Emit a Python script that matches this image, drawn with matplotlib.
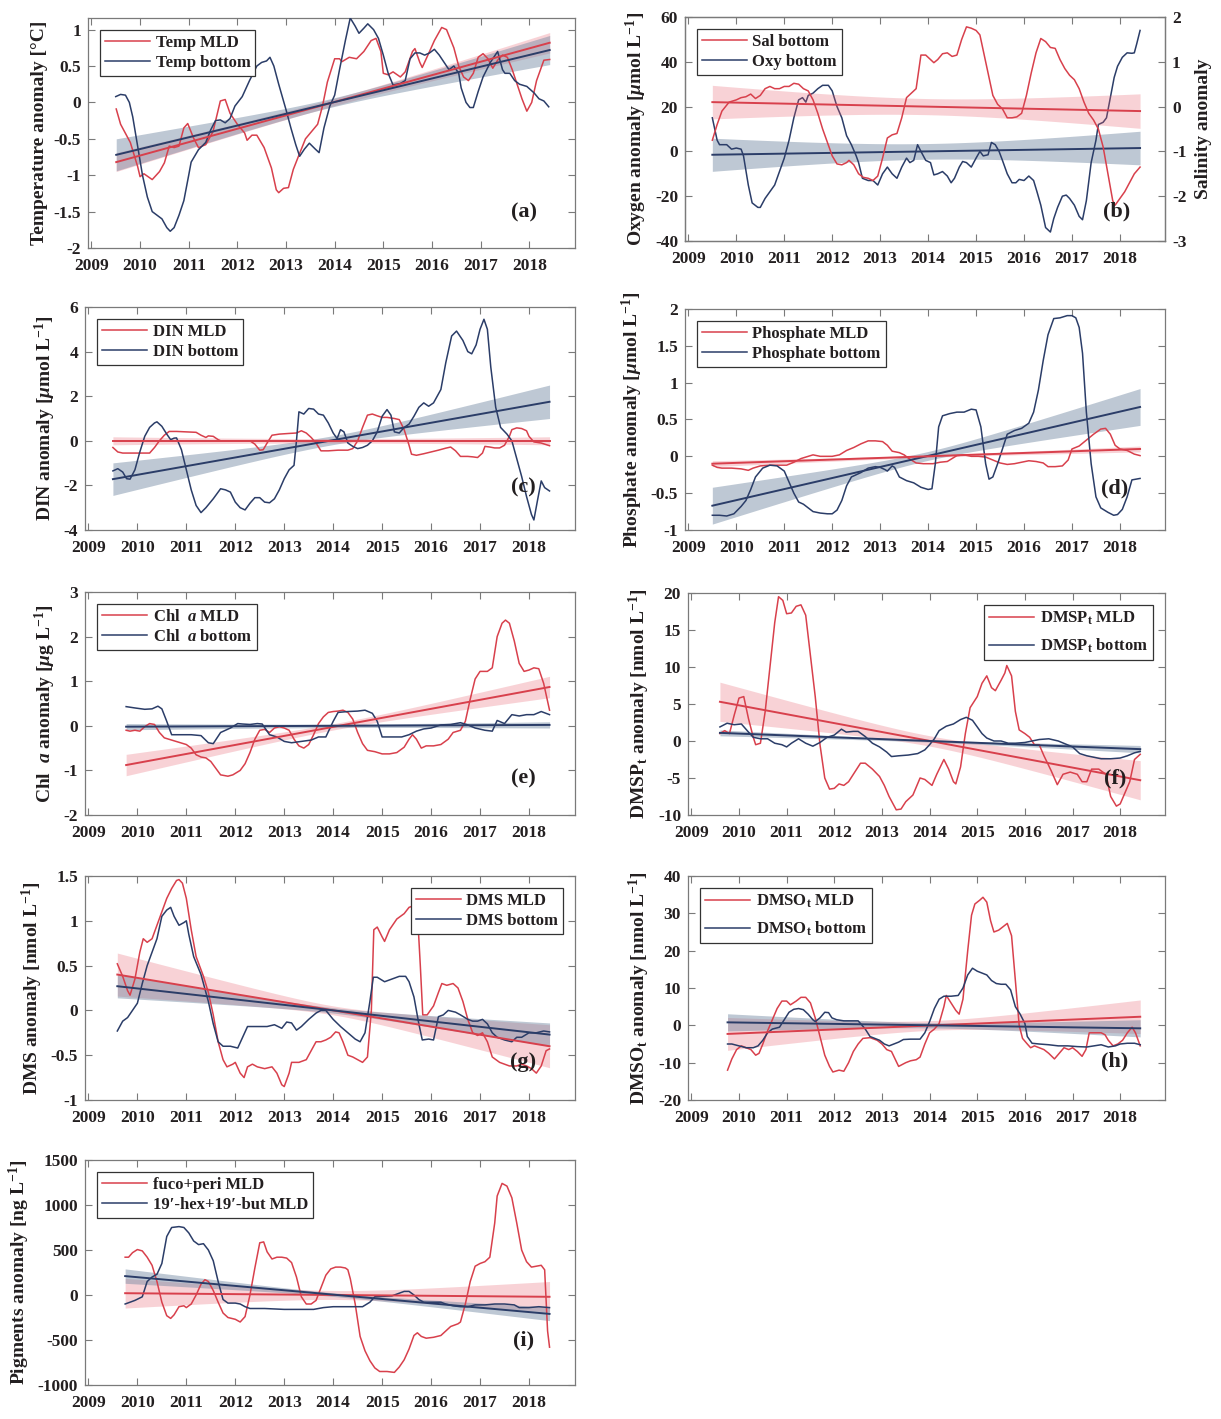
import numpy as np
import matplotlib
matplotlib.use("Agg")
import matplotlib.pyplot as plt
from matplotlib.ticker import FormatStrFormatter

plt.rcParams['font.family'] = ['Liberation Serif', 'DejaVu Serif']
plt.rcParams['font.weight'] = 'bold'
plt.rcParams['axes.labelweight'] = 'bold'
plt.rcParams['axes.unicode_minus'] = False
plt.rcParams['mathtext.fontset'] = 'custom'
plt.rcParams['mathtext.rm'] = 'Liberation Serif:bold'
plt.rcParams['mathtext.it'] = 'Liberation Serif:italic:bold'
plt.rcParams['mathtext.bf'] = 'Liberation Serif:bold'

RED = '#d8404c'
BLUE = '#2b3d68'
TXT = '#231f20'
FRAME = '#7a7a7a'

# ---------------- data (decimal year, anomaly) ----------------
temp_mld = np.array([(2009.51, -0.09), (2009.6, -0.3), (2009.8, -0.55), (2009.95, -0.88), (2010.0, -1.02),
    (2010.08, -0.98), (2010.25, -1.06), (2010.4, -0.95), (2010.5, -0.83), (2010.6, -0.6), (2010.7, -0.62),
    (2010.8, -0.6), (2010.9, -0.35), (2010.98, -0.29), (2011.1, -0.49), (2011.2, -0.62), (2011.35, -0.58),
    (2011.5, -0.4), (2011.65, 0.02), (2011.75, 0.04), (2011.85, -0.15), (2012.0, -0.3), (2012.15, -0.42),
    (2012.2, -0.52), (2012.3, -0.45), (2012.4, -0.45), (2012.55, -0.62), (2012.7, -0.9), (2012.8, -1.2),
    (2012.85, -1.24), (2012.95, -1.18), (2013.05, -1.17), (2013.15, -0.92), (2013.25, -0.75), (2013.4, -0.5),
    (2013.55, -0.38), (2013.65, -0.3), (2013.75, -0.05), (2013.85, 0.28), (2014.0, 0.6), (2014.1, 0.6),
    (2014.15, 0.56), (2014.3, 0.62), (2014.45, 0.6), (2014.6, 0.7), (2014.75, 0.85), (2014.85, 0.88),
    (2014.95, 0.7), (2015.0, 0.4), (2015.1, 0.38), (2015.2, 0.42), (2015.35, 0.35), (2015.45, 0.42),
    (2015.6, 0.7), (2015.65, 0.74), (2015.75, 0.55), (2015.8, 0.48), (2015.95, 0.7), (2016.05, 0.85),
    (2016.2, 1.03), (2016.3, 1.0), (2016.45, 0.75), (2016.55, 0.5), (2016.65, 0.35), (2016.75, 0.3),
    (2016.85, 0.4), (2016.95, 0.62), (2017.05, 0.67), (2017.15, 0.6), (2017.25, 0.47), (2017.35, 0.58),
    (2017.45, 0.65), (2017.55, 0.62), (2017.65, 0.45), (2017.75, 0.25), (2017.85, 0.05), (2017.95, -0.12),
    (2018.05, 0.0), (2018.15, 0.3), (2018.3, 0.58), (2018.42, 0.59)])
temp_bot = np.array([(2009.5, 0.08), (2009.6, 0.11), (2009.7, 0.1), (2009.78, 0.0), (2009.85, -0.2),
    (2009.95, -0.6), (2010.05, -1.0), (2010.15, -1.3), (2010.25, -1.5), (2010.35, -1.55), (2010.45, -1.6),
    (2010.55, -1.72), (2010.62, -1.77), (2010.7, -1.72), (2010.8, -1.55), (2010.9, -1.35), (2011.0, -1.0),
    (2011.05, -0.82), (2011.2, -0.65), (2011.35, -0.55), (2011.45, -0.38), (2011.55, -0.25), (2011.65, -0.24),
    (2011.75, -0.28), (2011.85, -0.22), (2011.95, -0.05), (2012.1, 0.08), (2012.25, 0.3), (2012.4, 0.5),
    (2012.5, 0.55), (2012.6, 0.57), (2012.67, 0.62), (2012.75, 0.5), (2012.85, 0.25), (2013.0, -0.1),
    (2013.1, -0.35), (2013.2, -0.58), (2013.28, -0.74), (2013.38, -0.64), (2013.48, -0.56), (2013.6, -0.64),
    (2013.68, -0.69), (2013.78, -0.35), (2013.9, -0.05), (2014.0, 0.1), (2014.1, 0.45), (2014.22, 0.85),
    (2014.32, 1.16), (2014.42, 1.05), (2014.5, 0.95), (2014.6, 1.02), (2014.68, 1.08), (2014.8, 1.0),
    (2014.9, 0.88), (2015.0, 0.65), (2015.1, 0.4), (2015.2, 0.24), (2015.35, 0.26), (2015.45, 0.3),
    (2015.55, 0.6), (2015.65, 0.68), (2015.75, 0.68), (2015.85, 0.65), (2015.95, 0.68), (2016.05, 0.73),
    (2016.15, 0.65), (2016.25, 0.55), (2016.35, 0.45), (2016.45, 0.5), (2016.55, 0.4), (2016.6, 0.2),
    (2016.7, 0.0), (2016.78, -0.07), (2016.85, -0.07), (2016.95, 0.15), (2017.05, 0.35), (2017.2, 0.55),
    (2017.35, 0.7), (2017.45, 0.45), (2017.5, 0.4), (2017.6, 0.4), (2017.7, 0.3), (2017.8, 0.25),
    (2017.95, 0.22), (2018.1, 0.13), (2018.2, 0.05), (2018.3, 0.02), (2018.4, -0.06)])

sal_bot = np.array([(2009.5, -0.75), (2009.6, -0.4), (2009.7, -0.1), (2009.85, 0.1), (2010.0, 0.15),
    (2010.1, 0.2), (2010.2, 0.22), (2010.3, 0.28), (2010.4, 0.18), (2010.5, 0.25), (2010.6, 0.4),
    (2010.7, 0.45), (2010.8, 0.4), (2010.9, 0.4), (2011.0, 0.45), (2011.1, 0.45), (2011.2, 0.52),
    (2011.3, 0.5), (2011.4, 0.4), (2011.5, 0.35), (2011.6, 0.15), (2011.7, -0.15), (2011.8, -0.5),
    (2011.9, -0.8), (2012.0, -1.1), (2012.1, -1.28), (2012.2, -1.3), (2012.3, -1.25), (2012.35, -1.2),
    (2012.45, -1.3), (2012.55, -1.5), (2012.65, -1.58), (2012.75, -1.6), (2012.85, -1.65), (2012.95, -1.55),
    (2013.05, -1.15), (2013.15, -0.7), (2013.25, -0.63), (2013.35, -0.6), (2013.45, -0.25), (2013.55, 0.2),
    (2013.65, 0.3), (2013.75, 0.4), (2013.85, 1.15), (2013.95, 1.15), (2014.05, 1.05), (2014.12, 0.98),
    (2014.2, 1.05), (2014.3, 1.18), (2014.4, 1.2), (2014.5, 1.12), (2014.6, 1.15), (2014.7, 1.5),
    (2014.8, 1.78), (2014.9, 1.75), (2015.0, 1.7), (2015.08, 1.6), (2015.15, 1.25), (2015.25, 0.75),
    (2015.35, 0.25), (2015.45, 0.05), (2015.55, -0.05), (2015.65, -0.25), (2015.75, -0.25), (2015.85, -0.23),
    (2015.95, -0.15), (2016.05, 0.25), (2016.15, 0.75), (2016.25, 1.2), (2016.35, 1.52), (2016.45, 1.45),
    (2016.55, 1.32), (2016.65, 1.3), (2016.75, 1.05), (2016.85, 0.85), (2016.95, 0.7), (2017.05, 0.6),
    (2017.15, 0.4), (2017.25, 0.1), (2017.35, -0.15), (2017.45, -0.3), (2017.55, -0.5), (2017.65, -0.9),
    (2017.75, -1.5), (2017.85, -2.1), (2017.9, -2.2), (2018.0, -2.05), (2018.1, -1.9), (2018.2, -1.7),
    (2018.3, -1.5), (2018.42, -1.35)])
oxy_bot = np.array([(2009.5, 15), (2009.6, 5), (2009.65, 3), (2009.8, 3), (2009.9, 1), (2010.0, 1.5),
    (2010.1, 1), (2010.15, -2), (2010.25, -15), (2010.33, -23), (2010.45, -25), (2010.5, -25), (2010.6, -21),
    (2010.7, -18), (2010.8, -15), (2010.9, -9), (2011.0, -3), (2011.1, 5), (2011.2, 15), (2011.3, 23),
    (2011.38, 24), (2011.45, 22), (2011.5, 25), (2011.6, 26), (2011.7, 28), (2011.8, 29.5), (2011.92, 29.5),
    (2012.0, 27), (2012.1, 20), (2012.2, 15), (2012.3, 7), (2012.4, 3), (2012.5, -2), (2012.55, -5),
    (2012.63, -12), (2012.75, -13), (2012.85, -13), (2012.95, -15), (2013.05, -10), (2013.15, -7),
    (2013.25, -10), (2013.35, -12), (2013.45, -7), (2013.55, -3), (2013.62, -5), (2013.7, -4), (2013.78, 3),
    (2013.85, 0), (2013.95, -4), (2014.05, -5), (2014.12, -10.5), (2014.2, -10), (2014.3, -9), (2014.4, -11),
    (2014.48, -14), (2014.55, -12), (2014.65, -7), (2014.72, -4.5), (2014.8, -5), (2014.9, -7), (2015.0, -3),
    (2015.08, 0), (2015.15, -2), (2015.25, -1.5), (2015.32, 4), (2015.4, 3), (2015.48, 0), (2015.55, -4),
    (2015.65, -10), (2015.75, -14), (2015.83, -14), (2015.9, -12.5), (2016.0, -13), (2016.1, -11),
    (2016.2, -13), (2016.27, -18), (2016.35, -24), (2016.45, -34), (2016.55, -36), (2016.62, -30),
    (2016.7, -25), (2016.8, -20), (2016.88, -19.5), (2016.95, -21), (2017.05, -24), (2017.15, -29),
    (2017.22, -30.5), (2017.3, -22), (2017.4, -5), (2017.5, 5), (2017.55, 12), (2017.65, 13), (2017.72, 15),
    (2017.8, 24), (2017.88, 33), (2017.95, 38), (2018.05, 42), (2018.15, 44), (2018.25, 43.8), (2018.3, 44),
    (2018.35, 48), (2018.42, 54)])

din_mld = np.array([(2009.5, -0.3), (2009.6, -0.5), (2009.7, -0.55), (2009.9, -0.55), (2010.1, -0.55),
    (2010.25, -0.55), (2010.35, -0.3), (2010.45, 0.0), (2010.55, 0.25), (2010.65, 0.42), (2010.8, 0.42),
    (2011.0, 0.4), (2011.2, 0.38), (2011.3, 0.25), (2011.4, 0.15), (2011.45, 0.22), (2011.55, 0.2),
    (2011.65, 0.05), (2011.7, 0.0), (2012.0, 0.0), (2012.3, 0.0), (2012.4, -0.15), (2012.5, -0.42),
    (2012.57, -0.4), (2012.65, -0.1), (2012.75, 0.25), (2012.9, 0.3), (2013.1, 0.33), (2013.25, 0.35),
    (2013.35, 0.45), (2013.45, 0.35), (2013.55, 0.15), (2013.65, -0.1), (2013.75, -0.45), (2013.9, -0.45),
    (2014.1, -0.42), (2014.3, -0.42), (2014.4, -0.35), (2014.5, 0.0), (2014.6, 0.6), (2014.7, 1.15),
    (2014.8, 1.2), (2014.9, 1.12), (2015.0, 1.05), (2015.1, 1.05), (2015.25, 1.0), (2015.35, 0.95),
    (2015.45, 0.5), (2015.55, -0.2), (2015.6, -0.6), (2015.7, -0.65), (2015.85, -0.58), (2016.0, -0.5),
    (2016.15, -0.42), (2016.3, -0.33), (2016.4, -0.28), (2016.5, -0.45), (2016.6, -0.7), (2016.75, -0.7),
    (2016.85, -0.72), (2016.95, -0.75), (2017.05, -0.55), (2017.1, -0.25), (2017.2, -0.28), (2017.3, -0.32),
    (2017.4, -0.32), (2017.5, -0.2), (2017.6, 0.2), (2017.65, 0.5), (2017.75, 0.58), (2017.85, 0.55),
    (2017.95, 0.45), (2018.0, 0.2), (2018.1, -0.05), (2018.25, -0.1), (2018.42, -0.22)])
din_bot = np.array([(2009.5, -1.35), (2009.6, -1.25), (2009.7, -1.4), (2009.78, -1.7), (2009.85, -1.72),
    (2009.95, -1.3), (2010.05, -0.5), (2010.15, 0.2), (2010.25, 0.6), (2010.35, 0.8), (2010.4, 0.85),
    (2010.5, 0.65), (2010.6, 0.3), (2010.68, 0.05), (2010.75, 0.12), (2010.8, 0.13), (2010.9, -0.4),
    (2011.0, -1.3), (2011.1, -2.2), (2011.2, -2.9), (2011.3, -3.22), (2011.4, -3.0), (2011.55, -2.6),
    (2011.7, -2.15), (2011.8, -2.2), (2011.9, -2.3), (2012.0, -2.75), (2012.1, -3.0), (2012.2, -3.1),
    (2012.3, -2.8), (2012.4, -2.55), (2012.5, -2.55), (2012.6, -2.75), (2012.7, -2.78), (2012.8, -2.6),
    (2012.9, -2.2), (2013.0, -1.7), (2013.1, -1.3), (2013.2, -1.1), (2013.25, 0.0), (2013.3, 1.3),
    (2013.4, 1.2), (2013.5, 1.45), (2013.6, 1.42), (2013.7, 1.2), (2013.8, 1.15), (2013.9, 0.8),
    (2014.0, 0.35), (2014.08, 0.1), (2014.15, 0.5), (2014.22, 0.4), (2014.3, -0.1), (2014.4, -0.25),
    (2014.5, -0.35), (2014.6, -0.3), (2014.7, -0.2), (2014.8, 0.0), (2014.9, 0.4), (2015.0, 1.1),
    (2015.1, 1.4), (2015.18, 1.15), (2015.25, 0.4), (2015.35, 0.35), (2015.45, 0.6), (2015.55, 0.75),
    (2015.65, 1.1), (2015.75, 1.5), (2015.85, 1.7), (2015.95, 1.55), (2016.05, 1.7), (2016.2, 2.3),
    (2016.3, 3.5), (2016.42, 4.7), (2016.52, 4.92), (2016.65, 4.5), (2016.75, 4.0), (2016.83, 3.9),
    (2016.92, 4.3), (2017.0, 5.0), (2017.08, 5.45), (2017.15, 5.0), (2017.22, 3.3), (2017.32, 1.5),
    (2017.42, 0.6), (2017.55, 0.3), (2017.65, 0.0), (2017.75, -0.8), (2017.85, -1.6), (2017.95, -2.5),
    (2018.05, -3.3), (2018.1, -3.55), (2018.18, -2.6), (2018.25, -1.8), (2018.32, -2.1), (2018.42, -2.25)])

po4_mld = np.array([(2009.5, -0.12), (2009.6, -0.15), (2009.7, -0.16), (2009.9, -0.16), (2010.1, -0.17),
    (2010.25, -0.19), (2010.35, -0.16), (2010.5, -0.13), (2010.7, -0.12), (2010.9, -0.12), (2011.05, -0.12),
    (2011.2, -0.08), (2011.35, -0.03), (2011.5, 0.0), (2011.6, 0.02), (2011.75, 0.0), (2012.0, 0.0),
    (2012.15, 0.02), (2012.3, 0.08), (2012.45, 0.12), (2012.6, 0.17), (2012.75, 0.21), (2012.9, 0.21),
    (2013.05, 0.2), (2013.15, 0.15), (2013.25, 0.07), (2013.4, 0.05), (2013.5, 0.02), (2013.6, -0.03),
    (2013.75, -0.09), (2013.9, -0.1), (2014.1, -0.1), (2014.25, -0.08), (2014.4, -0.07), (2014.5, -0.03),
    (2014.6, 0.01), (2014.75, 0.02), (2014.9, 0.0), (2015.05, 0.0), (2015.2, -0.01), (2015.35, -0.05),
    (2015.5, -0.09), (2015.65, -0.11), (2015.8, -0.1), (2015.95, -0.08), (2016.1, -0.06), (2016.25, -0.07),
    (2016.4, -0.09), (2016.5, -0.14), (2016.65, -0.14), (2016.8, -0.13), (2016.92, -0.05), (2017.0, 0.1),
    (2017.15, 0.14), (2017.3, 0.22), (2017.45, 0.3), (2017.6, 0.37), (2017.7, 0.38), (2017.8, 0.3),
    (2017.9, 0.15), (2018.0, 0.1), (2018.15, 0.08), (2018.3, 0.03), (2018.42, 0.01)])
po4_bot = np.array([(2009.5, -0.8), (2009.65, -0.8), (2009.8, -0.81), (2009.95, -0.78), (2010.1, -0.68),
    (2010.2, -0.6), (2010.3, -0.45), (2010.4, -0.28), (2010.55, -0.16), (2010.7, -0.12), (2010.85, -0.13),
    (2011.0, -0.2), (2011.1, -0.35), (2011.2, -0.5), (2011.3, -0.62), (2011.4, -0.65), (2011.5, -0.7),
    (2011.6, -0.75), (2011.75, -0.77), (2011.9, -0.78), (2012.0, -0.78), (2012.1, -0.73), (2012.2, -0.6),
    (2012.3, -0.4), (2012.4, -0.28), (2012.6, -0.22), (2012.75, -0.16), (2012.9, -0.14), (2013.0, -0.15),
    (2013.1, -0.18), (2013.15, -0.2), (2013.25, -0.13), (2013.3, -0.15), (2013.4, -0.28), (2013.55, -0.33),
    (2013.7, -0.36), (2013.85, -0.42), (2014.0, -0.45), (2014.08, -0.44), (2014.15, -0.1), (2014.22, 0.4),
    (2014.3, 0.55), (2014.45, 0.58), (2014.6, 0.6), (2014.75, 0.6), (2014.9, 0.64), (2015.0, 0.63),
    (2015.1, 0.4), (2015.2, -0.1), (2015.27, -0.31), (2015.35, -0.28), (2015.45, -0.1), (2015.55, 0.1),
    (2015.65, 0.3), (2015.8, 0.35), (2015.95, 0.38), (2016.1, 0.45), (2016.2, 0.6), (2016.3, 0.9),
    (2016.4, 1.3), (2016.5, 1.65), (2016.62, 1.87), (2016.75, 1.88), (2016.9, 1.91), (2017.0, 1.91),
    (2017.08, 1.88), (2017.15, 1.75), (2017.22, 1.4), (2017.3, 0.6), (2017.4, -0.1), (2017.5, -0.55),
    (2017.6, -0.7), (2017.75, -0.76), (2017.87, -0.8), (2017.95, -0.79), (2018.05, -0.72), (2018.15, -0.55),
    (2018.25, -0.32), (2018.42, -0.3)])

chl_mld = np.array([(2009.77, -0.1), (2009.85, -0.12), (2009.95, -0.1), (2010.05, -0.12), (2010.15, -0.02),
    (2010.25, 0.05), (2010.35, 0.03), (2010.45, -0.15), (2010.55, -0.27), (2010.7, -0.32), (2010.85, -0.37),
    (2011.0, -0.42), (2011.1, -0.5), (2011.2, -0.65), (2011.3, -0.7), (2011.4, -0.72), (2011.5, -0.8),
    (2011.6, -0.95), (2011.7, -1.1), (2011.85, -1.13), (2011.95, -1.1), (2012.1, -1.0), (2012.2, -0.85),
    (2012.3, -0.6), (2012.4, -0.3), (2012.5, -0.1), (2012.6, -0.08), (2012.7, -0.15), (2012.8, -0.05),
    (2012.9, -0.02), (2013.0, -0.05), (2013.1, -0.1), (2013.2, -0.3), (2013.3, -0.45), (2013.4, -0.5),
    (2013.5, -0.42), (2013.6, -0.2), (2013.7, 0.05), (2013.8, 0.2), (2013.9, 0.3), (2014.0, 0.32),
    (2014.1, 0.33), (2014.2, 0.35), (2014.3, 0.3), (2014.4, 0.15), (2014.5, -0.15), (2014.6, -0.4),
    (2014.7, -0.55), (2014.85, -0.58), (2015.0, -0.63), (2015.15, -0.63), (2015.3, -0.6), (2015.45, -0.48),
    (2015.55, -0.3), (2015.62, -0.2), (2015.7, -0.3), (2015.8, -0.5), (2015.9, -0.45), (2016.05, -0.45),
    (2016.2, -0.42), (2016.35, -0.3), (2016.45, -0.15), (2016.6, -0.1), (2016.7, 0.1), (2016.8, 0.6),
    (2016.9, 1.05), (2017.0, 1.22), (2017.15, 1.22), (2017.25, 1.3), (2017.35, 2.0), (2017.45, 2.3),
    (2017.52, 2.37), (2017.6, 2.3), (2017.7, 1.9), (2017.8, 1.4), (2017.9, 1.22), (2018.0, 1.25),
    (2018.1, 1.3), (2018.2, 1.28), (2018.3, 0.95), (2018.42, 0.35)])
chl_bot = np.array([(2009.77, 0.43), (2009.95, 0.4), (2010.15, 0.37), (2010.3, 0.38), (2010.42, 0.44),
    (2010.5, 0.38), (2010.6, 0.1), (2010.7, -0.2), (2010.9, -0.2), (2011.1, -0.2), (2011.3, -0.22),
    (2011.45, -0.38), (2011.55, -0.4), (2011.7, -0.15), (2011.9, -0.05), (2012.05, 0.05), (2012.15, 0.04),
    (2012.3, 0.03), (2012.45, 0.05), (2012.55, 0.04), (2012.7, -0.2), (2012.85, -0.25), (2013.0, -0.35),
    (2013.15, -0.38), (2013.35, -0.35), (2013.55, -0.32), (2013.7, -0.25), (2013.85, -0.25), (2014.0, 0.1),
    (2014.1, 0.3), (2014.3, 0.32), (2014.5, 0.33), (2014.65, 0.35), (2014.8, 0.28), (2014.9, 0.1),
    (2015.0, -0.25), (2015.2, -0.25), (2015.4, -0.25), (2015.55, -0.2), (2015.7, -0.12), (2015.85, -0.07),
    (2016.0, -0.05), (2016.2, 0.02), (2016.4, 0.03), (2016.6, 0.07), (2016.75, 0.02), (2016.9, -0.05),
    (2017.1, -0.1), (2017.25, -0.12), (2017.35, 0.12), (2017.5, 0.05), (2017.65, 0.25), (2017.8, 0.22),
    (2017.95, 0.25), (2018.1, 0.25), (2018.25, 0.32), (2018.42, 0.25)])

dmsp_mld = np.array([(2009.6, 1.0), (2009.7, 1.4), (2009.8, 1.0), (2009.9, 3.5), (2010.0, 5.8), (2010.1, 6.0),
    (2010.2, 3.0), (2010.3, 0.5), (2010.35, -0.5), (2010.45, -0.3), (2010.55, 4.0), (2010.65, 10.0),
    (2010.75, 16.0), (2010.83, 19.5), (2010.92, 19.0), (2011.0, 17.2), (2011.1, 17.3), (2011.2, 18.2),
    (2011.3, 18.4), (2011.4, 17.0), (2011.5, 11.5), (2011.6, 6.0), (2011.7, -0.5), (2011.8, -5.0),
    (2011.9, -6.5), (2012.0, -6.4), (2012.1, -5.8), (2012.2, -6.0), (2012.3, -5.5), (2012.45, -4.0),
    (2012.55, -3.0), (2012.65, -3.0), (2012.8, -3.8), (2012.95, -4.8), (2013.05, -6.0), (2013.15, -7.5),
    (2013.3, -9.3), (2013.4, -9.2), (2013.5, -8.2), (2013.65, -7.3), (2013.8, -5.0), (2013.9, -5.2),
    (2014.05, -6.0), (2014.15, -4.5), (2014.3, -2.5), (2014.4, -3.8), (2014.5, -5.5), (2014.55, -5.8),
    (2014.65, -3.5), (2014.75, 1.0), (2014.85, 4.5), (2015.0, 6.0), (2015.1, 7.8), (2015.2, 8.8),
    (2015.3, 7.2), (2015.38, 6.8), (2015.5, 8.2), (2015.58, 9.2), (2015.62, 10.2), (2015.72, 8.8),
    (2015.8, 4.0), (2015.88, 1.5), (2016.0, 1.0), (2016.1, 0.5), (2016.2, -0.5), (2016.3, -0.5),
    (2016.4, -2.0), (2016.55, -4.0), (2016.68, -5.9), (2016.8, -4.5), (2016.95, -4.2), (2017.1, -4.5),
    (2017.2, -5.5), (2017.3, -5.5), (2017.4, -3.8), (2017.55, -3.8), (2017.7, -4.5), (2017.8, -7.5),
    (2017.92, -8.8), (2018.0, -8.5), (2018.1, -7.0), (2018.2, -5.5), (2018.3, -2.5), (2018.42, -1.8)])
dmsp_bot = np.array([(2009.6, 1.9), (2009.75, 2.4), (2009.9, 2.2), (2010.05, 2.3), (2010.2, 1.2),
    (2010.3, 0.5), (2010.45, 0.3), (2010.6, 0.3), (2010.75, -0.3), (2010.9, -0.5), (2011.0, -0.8),
    (2011.1, -0.3), (2011.25, 0.3), (2011.4, -0.3), (2011.55, -0.7), (2011.7, -0.2), (2011.85, 0.5),
    (2012.0, 0.8), (2012.15, 1.6), (2012.25, 1.2), (2012.4, 1.3), (2012.5, 1.3), (2012.65, 0.6),
    (2012.8, -0.3), (2012.95, -0.8), (2013.1, -1.5), (2013.2, -2.1), (2013.35, -2.0), (2013.55, -1.9),
    (2013.75, -1.7), (2013.9, -1.2), (2014.0, -0.5), (2014.1, 0.3), (2014.2, 1.4), (2014.35, 2.0),
    (2014.5, 2.3), (2014.65, 2.9), (2014.77, 3.2), (2014.9, 2.8), (2015.0, 1.9), (2015.1, 1.0),
    (2015.2, 0.4), (2015.35, 0.0), (2015.5, 0.0), (2015.65, -0.3), (2015.8, -0.3), (2016.0, -0.2),
    (2016.15, 0.0), (2016.3, 0.2), (2016.5, 0.3), (2016.7, 0.0), (2016.85, -0.4), (2017.0, -0.8),
    (2017.15, -1.7), (2017.3, -2.0), (2017.45, -2.2), (2017.6, -2.4), (2017.8, -2.4), (2018.0, -2.3),
    (2018.15, -2.0), (2018.3, -1.6), (2018.42, -1.4)])

dms_mld = np.array([(2009.59, 0.52), (2009.7, 0.38), (2009.8, 0.22), (2009.85, 0.17), (2009.95, 0.35),
    (2010.05, 0.65), (2010.12, 0.8), (2010.2, 0.76), (2010.3, 0.8), (2010.4, 0.95), (2010.5, 1.1),
    (2010.6, 1.25), (2010.7, 1.36), (2010.8, 1.45), (2010.85, 1.46), (2010.92, 1.42), (2011.0, 1.25),
    (2011.1, 0.9), (2011.2, 0.6), (2011.35, 0.38), (2011.45, 0.2), (2011.55, -0.05), (2011.65, -0.35),
    (2011.75, -0.55), (2011.83, -0.63), (2011.95, -0.6), (2012.0, -0.58), (2012.1, -0.7), (2012.18, -0.75),
    (2012.25, -0.63), (2012.35, -0.6), (2012.45, -0.63), (2012.6, -0.65), (2012.75, -0.63), (2012.85, -0.7),
    (2012.95, -0.83), (2013.0, -0.85), (2013.1, -0.7), (2013.15, -0.58), (2013.3, -0.58), (2013.45, -0.55),
    (2013.55, -0.45), (2013.65, -0.35), (2013.75, -0.35), (2013.85, -0.33), (2013.95, -0.3), (2014.05, -0.24),
    (2014.12, -0.25), (2014.2, -0.35), (2014.3, -0.5), (2014.4, -0.52), (2014.5, -0.55), (2014.6, -0.58),
    (2014.7, -0.52), (2014.78, 0.0), (2014.83, 0.9), (2014.9, 0.93), (2015.0, 0.82), (2015.05, 0.77),
    (2015.15, 0.9), (2015.3, 1.02), (2015.45, 1.08), (2015.55, 1.15), (2015.65, 1.17), (2015.72, 1.1),
    (2015.78, 0.5), (2015.83, -0.05), (2015.92, -0.05), (2016.05, 0.05), (2016.15, 0.2), (2016.22, 0.3),
    (2016.32, 0.28), (2016.45, 0.3), (2016.55, 0.25), (2016.65, 0.1), (2016.75, -0.1), (2016.85, -0.25),
    (2016.95, -0.28), (2017.05, -0.25), (2017.15, -0.35), (2017.25, -0.52), (2017.4, -0.58), (2017.5, -0.6),
    (2017.6, -0.62), (2017.75, -0.62), (2017.85, -0.6), (2017.95, -0.62), (2018.05, -0.65), (2018.15, -0.7),
    (2018.25, -0.62), (2018.35, -0.45), (2018.42, -0.43)])
dms_bot = np.array([(2009.59, -0.23), (2009.7, -0.12), (2009.8, -0.08), (2009.9, 0.0), (2010.0, 0.08),
    (2010.1, 0.3), (2010.2, 0.5), (2010.3, 0.65), (2010.4, 0.8), (2010.5, 1.05), (2010.6, 1.12),
    (2010.68, 1.15), (2010.75, 1.05), (2010.85, 0.95), (2010.95, 0.98), (2011.0, 1.0), (2011.05, 0.85),
    (2011.15, 0.6), (2011.3, 0.4), (2011.45, 0.1), (2011.55, -0.15), (2011.65, -0.35), (2011.75, -0.4),
    (2011.9, -0.4), (2012.05, -0.42), (2012.15, -0.3), (2012.25, -0.18), (2012.45, -0.18), (2012.65, -0.18),
    (2012.8, -0.16), (2012.95, -0.2), (2013.05, -0.13), (2013.15, -0.14), (2013.25, -0.22), (2013.35, -0.18),
    (2013.5, -0.1), (2013.65, -0.03), (2013.75, 0.0), (2013.85, 0.0), (2014.0, -0.1), (2014.15, -0.18),
    (2014.3, -0.25), (2014.45, -0.32), (2014.55, -0.35), (2014.65, -0.25), (2014.75, 0.1), (2014.82, 0.37),
    (2014.9, 0.37), (2015.05, 0.32), (2015.2, 0.35), (2015.35, 0.38), (2015.48, 0.38), (2015.55, 0.32),
    (2015.65, 0.15), (2015.75, -0.15), (2015.82, -0.33), (2015.95, -0.32), (2016.05, -0.33), (2016.15, -0.07),
    (2016.25, -0.05), (2016.35, 0.0), (2016.5, -0.02), (2016.6, -0.05), (2016.75, -0.1), (2016.85, -0.12),
    (2016.95, -0.12), (2017.05, -0.1), (2017.15, -0.15), (2017.25, -0.25), (2017.35, -0.3), (2017.5, -0.33),
    (2017.65, -0.35), (2017.75, -0.3), (2017.85, -0.3), (2018.0, -0.25), (2018.15, -0.25), (2018.3, -0.23),
    (2018.42, -0.24)])

dmso_mld = np.array([(2009.76, -12), (2009.85, -9), (2009.95, -6.5), (2010.05, -5.5), (2010.15, -6),
    (2010.25, -6.5), (2010.35, -8), (2010.42, -7.5), (2010.5, -5), (2010.6, -1.5), (2010.7, 1.5),
    (2010.8, 4.5), (2010.9, 6.5), (2011.0, 6.5), (2011.08, 5.5), (2011.2, 6.5), (2011.3, 7.5), (2011.4, 7.5),
    (2011.5, 6), (2011.6, 2), (2011.7, -3), (2011.8, -8), (2011.9, -11), (2011.97, -12.5), (2012.1, -12),
    (2012.2, -12.3), (2012.3, -10), (2012.4, -7), (2012.5, -5), (2012.6, -3.5), (2012.75, -3.3), (2012.9, -4),
    (2013.0, -5), (2013.1, -6.5), (2013.2, -7), (2013.35, -11), (2013.5, -10), (2013.6, -9.5), (2013.72, -9.2),
    (2013.8, -8.5), (2013.9, -5), (2014.0, -2), (2014.1, -1), (2014.2, 0.5), (2014.3, 5), (2014.35, 8),
    (2014.45, 6), (2014.55, 4), (2014.62, 3), (2014.7, 7), (2014.8, 20), (2014.88, 29.5), (2014.95, 32.5),
    (2015.05, 33.5), (2015.12, 34.3), (2015.2, 33), (2015.28, 28), (2015.35, 25), (2015.45, 25.5),
    (2015.55, 26.5), (2015.63, 27.3), (2015.72, 24), (2015.8, 12), (2015.88, 0), (2015.95, -3.5),
    (2016.05, -5), (2016.12, -6), (2016.2, -5.5), (2016.3, -6), (2016.4, -6.5), (2016.5, -7.5), (2016.62, -9),
    (2016.72, -7.5), (2016.82, -6), (2016.92, -6.5), (2017.0, -6), (2017.1, -7), (2017.2, -8.3),
    (2017.28, -6.5), (2017.35, -2), (2017.5, -2), (2017.6, -2), (2017.68, -2.5), (2017.75, -4), (2017.85, -5.5),
    (2017.95, -5), (2018.05, -4), (2018.15, -2), (2018.25, -0.5), (2018.32, -2), (2018.42, -5.5)])
dmso_bot = np.array([(2009.76, -5), (2009.85, -5), (2010.0, -5.5), (2010.15, -6), (2010.3, -6), (2010.4, -5.5),
    (2010.5, -4), (2010.6, -2), (2010.7, -1), (2010.85, -0.5), (2010.95, 1.5), (2011.05, 3.5), (2011.15, 4.3),
    (2011.25, 4.5), (2011.35, 4.2), (2011.45, 3), (2011.55, 1.5), (2011.6, 1), (2011.7, 2), (2011.8, 3.5),
    (2011.88, 3.4), (2011.95, 2), (2012.05, 1.5), (2012.2, 1.2), (2012.4, 1.2), (2012.5, 1.2), (2012.55, 0.5),
    (2012.65, -1), (2012.75, -3), (2012.85, -3.5), (2012.95, -4), (2013.05, -5), (2013.15, -5.5),
    (2013.25, -5), (2013.35, -4.5), (2013.45, -3.8), (2013.6, -3.7), (2013.8, -3.7), (2013.9, -2), (2014.0, 1),
    (2014.1, 4.5), (2014.2, 7), (2014.3, 7.8), (2014.45, 7.8), (2014.6, 8), (2014.7, 10), (2014.8, 13.5),
    (2014.9, 15.3), (2015.0, 14.5), (2015.1, 14), (2015.2, 13.5), (2015.3, 12), (2015.4, 11.2), (2015.5, 11),
    (2015.6, 11), (2015.7, 9.5), (2015.8, 5), (2015.9, 3), (2016.0, 0.5), (2016.05, -3), (2016.15, -4.8),
    (2016.3, -5), (2016.5, -5.2), (2016.7, -5.5), (2016.9, -5.5), (2017.1, -5.7), (2017.3, -5.8),
    (2017.5, -5.4), (2017.6, -5.2), (2017.75, -5.8), (2017.9, -5.5), (2018.0, -5.0), (2018.15, -4.8),
    (2018.3, -4.8), (2018.42, -5.2)])

fuco_mld = np.array([(2009.75, 420), (2009.82, 420), (2009.9, 470), (2010.0, 505), (2010.1, 490), (2010.2, 420),
    (2010.3, 330), (2010.4, 150), (2010.5, -80), (2010.6, -230), (2010.68, -260), (2010.75, -220),
    (2010.85, -130), (2010.95, -120), (2011.0, -140), (2011.1, -100), (2011.2, 0), (2011.3, 120),
    (2011.38, 170), (2011.45, 150), (2011.55, 50), (2011.65, -80), (2011.75, -200), (2011.85, -250),
    (2012.0, -270), (2012.1, -300), (2012.2, -240), (2012.3, 0), (2012.4, 300), (2012.5, 580), (2012.58, 590),
    (2012.65, 480), (2012.75, 400), (2012.85, 420), (2012.95, 420), (2013.05, 410), (2013.15, 360),
    (2013.25, 200), (2013.35, -20), (2013.45, -100), (2013.55, -100), (2013.65, -60), (2013.75, 80),
    (2013.85, 220), (2013.95, 290), (2014.05, 310), (2014.15, 310), (2014.25, 300), (2014.3, 280),
    (2014.35, 180), (2014.45, -100), (2014.55, -460), (2014.65, -620), (2014.75, -730), (2014.85, -810),
    (2014.95, -850), (2015.1, -850), (2015.25, -860), (2015.35, -800), (2015.45, -720), (2015.55, -600),
    (2015.65, -450), (2015.72, -420), (2015.8, -460), (2015.9, -480), (2016.05, -470), (2016.2, -450),
    (2016.3, -400), (2016.4, -350), (2016.55, -320), (2016.6, -300), (2016.7, -100), (2016.8, 150),
    (2016.9, 320), (2017.0, 350), (2017.1, 370), (2017.2, 420), (2017.3, 800), (2017.35, 1100),
    (2017.45, 1240), (2017.55, 1210), (2017.65, 1080), (2017.75, 800), (2017.85, 500), (2017.95, 370),
    (2018.05, 310), (2018.15, 320), (2018.25, 330), (2018.32, 280), (2018.38, -400), (2018.42, -580)])
hex_mld = np.array([(2009.75, -100), (2009.85, -80), (2009.95, -60), (2010.1, -20), (2010.2, 150),
    (2010.3, 200), (2010.4, 230), (2010.5, 350), (2010.6, 650), (2010.7, 750), (2010.85, 760), (2010.95, 750),
    (2011.05, 690), (2011.15, 600), (2011.25, 560), (2011.35, 570), (2011.45, 500), (2011.55, 380),
    (2011.65, 150), (2011.75, -50), (2011.85, -90), (2012.0, -90), (2012.1, -100), (2012.2, -130),
    (2012.3, -150), (2012.6, -150), (2013.0, -160), (2013.3, -160), (2013.6, -160), (2013.8, -140),
    (2014.0, -130), (2014.3, -130), (2014.6, -130), (2014.75, -80), (2014.85, -20), (2015.0, -15),
    (2015.2, -10), (2015.3, 10), (2015.45, 40), (2015.55, 40), (2015.65, 0), (2015.75, -50), (2015.85, -80),
    (2016.0, -80), (2016.2, -80), (2016.3, -100), (2016.45, -120), (2016.6, -130), (2016.75, -130),
    (2016.9, -110), (2017.1, -110), (2017.3, -100), (2017.5, -100), (2017.7, -110), (2017.8, -140),
    (2018.0, -140), (2018.2, -130), (2018.42, -140)])

# linear trends: (t start, t end, y start, y end, half-width start, centre, end)
temp_mld_fit = (2009.51, 2018.42, -0.82, 0.82, 0.13, 0.05, 0.14)
temp_bot_fit = (2009.51, 2018.42, -0.72, 0.72, 0.22, 0.06, 0.20)
sal_fit = (2009.5, 2018.42, 0.10, -0.10, 0.375, 0.18, 0.385)
oxy_fit = (2009.5, 2018.42, -1.5, 1.5, 7.4, 3.5, 7.5)
din_mld_fit = (2009.5, 2018.42, 0.0, 0.0, 0.18, 0.10, 0.18)
din_bot_fit = (2009.5, 2018.42, -1.72, 1.75, 0.73, 0.20, 0.75)
po4_mld_fit = (2009.5, 2018.42, -0.10, 0.10, 0.04, 0.015, 0.04)
po4_bot_fit = (2009.5, 2018.42, -0.67, 0.67, 0.25, 0.06, 0.25)
chl_mld_fit = (2009.77, 2018.42, -0.88, 0.87, 0.24, 0.07, 0.24)
chl_bot_fit = (2009.77, 2018.42, -0.02, 0.02, 0.07, 0.04, 0.07)
dmsp_mld_fit = (2009.6, 2018.42, 5.3, -5.3, 2.65, 0.7, 2.65)
dmsp_bot_fit = (2009.6, 2018.42, 1.1, -1.1, 0.4, 0.15, 0.5)
dms_mld_fit = (2009.59, 2018.42, 0.40, -0.40, 0.24, 0.05, 0.24)
dms_bot_fit = (2009.59, 2018.42, 0.27, -0.27, 0.13, 0.03, 0.13)
dmso_mld_fit = (2009.76, 2018.42, -2.3, 2.3, 4.4, 1.3, 4.5)
dmso_bot_fit = (2009.76, 2018.42, 0.8, -0.8, 2.3, 0.7, 2.3)
fuco_fit = (2009.75, 2018.42, 20, -20, 165, 50, 170)
hex_fit = (2009.75, 2018.42, 210, -210, 80, 20, 75)

years = list(range(2009, 2019))

W, H = 1221, 1419
fig = plt.figure(figsize=(W / 100, H / 100), dpi=100)


def make_ax(l, r, t, b):
    ax = fig.add_axes([l / W, 1 - b / H, (r - l) / W, (b - t) / H])
    style(ax)
    return ax


def style(ax):
    ax.set_xlim(2008.93, 2018.94)
    ax.set_xticks(years)
    ax.tick_params(direction='in', length=5, width=0.8, color=FRAME, labelsize=12.5,
                   labelcolor=TXT, top=True, right=True)
    ax.tick_params(axis='x', pad=7)
    ax.tick_params(axis='y', pad=5)
    ax.yaxis.set_major_formatter(FormatStrFormatter('%g'))
    for s in ax.spines.values():
        s.set_color(FRAME)
        s.set_linewidth(0.9)


def trend(ax, fit, color, fc, alpha, z=2):
    t0, t1, y0, y1, w0, wm, w1 = fit
    t = np.linspace(t0, t1, 80)
    s = (t - (t0 + t1) / 2) / ((t1 - t0) / 2)
    y = y0 + (y1 - y0) * (s + 1) / 2
    we = np.where(s < 0, w0, w1)
    hw = np.sqrt(wm ** 2 + (we ** 2 - wm ** 2) * s ** 2)
    ax.fill_between(t, y - hw, y + hw, color=fc, alpha=alpha, lw=0, zorder=z)
    ax.plot(t, y, color=color, lw=1.4, zorder=z + 2)


def series(ax, d, color, label):
    return ax.plot(d[:, 0], d[:, 1], color=color, lw=1.1, label=label, zorder=3)[0]


def legend(ax, loc='upper left', handles=None, spacing=0.25):
    kw = dict(loc=loc, fontsize=12, frameon=True, fancybox=False, framealpha=1,
              edgecolor='#333333', handlelength=2.7, handletextpad=0.35, borderpad=0.3,
              labelspacing=spacing, borderaxespad=0.7)
    leg = ax.legend(handles=handles, **kw) if handles else ax.legend(**kw)
    leg.get_frame().set_linewidth(0.9)
    for txt in leg.get_texts():
        txt.set_color(TXT)
    leg.set_zorder(10)


def panel_label(ax, s, x=0.895, y=0.16):
    ax.text(x, y, s, transform=ax.transAxes, fontsize=16, ha='center', va='center', color=TXT, zorder=11)


def ylab(ax, s):
    ax.set_ylabel(s, fontsize=14, color=TXT, labelpad=4)


RB, RA = '#e8606e', 0.28
BB, BA = '#6f86a0', 0.45

# (a)
ax = make_ax(88, 575, 18, 248)
ax.set_ylim(-2, 1.16)
ax.set_yticks([-2, -1.5, -1, -0.5, 0, 0.5, 1])
trend(ax, temp_mld_fit, RED, RB, RA)
trend(ax, temp_bot_fit, BLUE, BB, BA)
series(ax, temp_mld, RED, 'Temp MLD')
series(ax, temp_bot, BLUE, 'Temp bottom')
legend(ax)
ylab(ax, 'Temperature anomaly [°C]')
panel_label(ax, '(a)', 0.895, 0.155)

# (b)
ax = make_ax(685, 1165, 17, 241)
ax.set_ylim(-40, 60)
ax.set_yticks(range(-40, 61, 20))
ax2 = ax.twinx()
style(ax2)
ax2.set_ylim(-3, 2)
ax2.set_yticks(range(-3, 3))
trend(ax, oxy_fit, BLUE, BB, BA)
trend(ax2, sal_fit, RED, RB, RA)
hb = series(ax, oxy_bot, BLUE, 'Oxy bottom')
hr = series(ax2, sal_bot, RED, 'Sal bottom')
ax.tick_params(right=False)
ax2.tick_params(left=False, top=True)
legend(ax2, handles=[hr, hb])
ylab(ax, r'Oxygen anomaly [$\mu$mol L$^{-1}$]')
ax2.set_ylabel('Salinity anomaly', fontsize=14, color=TXT, labelpad=6)
panel_label(ax2, '(b)', 0.9, 0.13)

# (c)
ax = make_ax(85, 575, 307, 530)
ax.set_ylim(-4, 6)
ax.set_yticks(range(-4, 7, 2))
trend(ax, din_bot_fit, BLUE, BB, BA)
trend(ax, din_mld_fit, RED, RB, RA)
series(ax, din_mld, RED, 'DIN MLD')
series(ax, din_bot, BLUE, 'DIN bottom')
legend(ax)
ylab(ax, r'DIN anomaly [$\mu$mol L$^{-1}$]')
panel_label(ax, '(c)', 0.895, 0.19)

# (d)
ax = make_ax(685, 1165, 309, 530)
ax.set_ylim(-1, 2)
ax.set_yticks([-1, -0.5, 0, 0.5, 1, 1.5, 2])
trend(ax, po4_bot_fit, BLUE, BB, BA)
trend(ax, po4_mld_fit, RED, RB, RA)
series(ax, po4_mld, RED, 'Phosphate MLD')
series(ax, po4_bot, BLUE, 'Phosphate bottom')
legend(ax)
ylab(ax, r'Phosphate anomaly [$\mu$mol L$^{-1}$]')
panel_label(ax, '(d)', 0.895, 0.19)

# (e)
ax = make_ax(85, 575, 592, 815)
ax.set_ylim(-2, 3)
ax.set_yticks(range(-2, 4))
trend(ax, chl_mld_fit, RED, RB, RA)
trend(ax, chl_bot_fit, BLUE, BB, BA)
series(ax, chl_mld, RED, r'Chl  $a$ MLD')
series(ax, chl_bot, BLUE, r'Chl  $a$ bottom')
legend(ax)
ylab(ax, r'Chl  $a$ anomaly [$\mu$g L$^{-1}$]')
panel_label(ax, '(e)', 0.895, 0.165)

# (f)
ax = make_ax(688, 1165, 593, 815)
ax.set_ylim(-10, 20)
ax.set_yticks(range(-10, 21, 5))
trend(ax, dmsp_mld_fit, RED, RB, RA)
trend(ax, dmsp_bot_fit, BLUE, BB, BA)
series(ax, dmsp_mld, RED, r'DMSP$_\mathrm{t}$ MLD')
series(ax, dmsp_bot, BLUE, r'DMSP$_\mathrm{t}$ bottom')
legend(ax, loc='upper right', spacing=0.6)
ylab(ax, r'DMSP$_\mathrm{t}$ anomaly [nmol L$^{-1}$]')
panel_label(ax, '(f)', 0.895, 0.165)

# (g)
ax = make_ax(85, 575, 876, 1100)
ax.set_ylim(-1, 1.5)
ax.set_yticks([-1, -0.5, 0, 0.5, 1, 1.5])
trend(ax, dms_mld_fit, RED, RB, RA)
trend(ax, dms_bot_fit, BLUE, BB, BA)
series(ax, dms_mld, RED, 'DMS MLD')
series(ax, dms_bot, BLUE, 'DMS bottom')
legend(ax, loc='upper right')
ylab(ax, r'DMS anomaly [nmol L$^{-1}$]')
panel_label(ax, '(g)', 0.895, 0.17)

# (h)
ax = make_ax(688, 1165, 876, 1100)
ax.set_ylim(-20, 40)
ax.set_yticks(range(-20, 41, 10))
trend(ax, dmso_mld_fit, RED, RB, RA)
trend(ax, dmso_bot_fit, BLUE, BB, BA)
series(ax, dmso_mld, RED, r'DMSO$_\mathrm{t}$ MLD')
series(ax, dmso_bot, BLUE, r'DMSO$_\mathrm{t}$ bottom')
legend(ax, spacing=0.6)
ylab(ax, r'DMSO$_\mathrm{t}$ anomaly [nmol L$^{-1}$]')
panel_label(ax, '(h)', 0.895, 0.17)

# (i)
ax = make_ax(85, 575, 1160, 1385)
ax.set_ylim(-1000, 1500)
ax.set_yticks(range(-1000, 1501, 500))
trend(ax, fuco_fit, RED, RB, RA)
trend(ax, hex_fit, BLUE, BB, BA)
series(ax, fuco_mld, RED, 'fuco+peri MLD')
series(ax, hex_mld, BLUE, '19\u2032-hex+19\u2032-but MLD')
legend(ax)
ylab(ax, r'Pigments anomaly [ng L$^{-1}$]')
panel_label(ax, '(i)', 0.895, 0.2)

fig.savefig('out.png', dpi=100)
